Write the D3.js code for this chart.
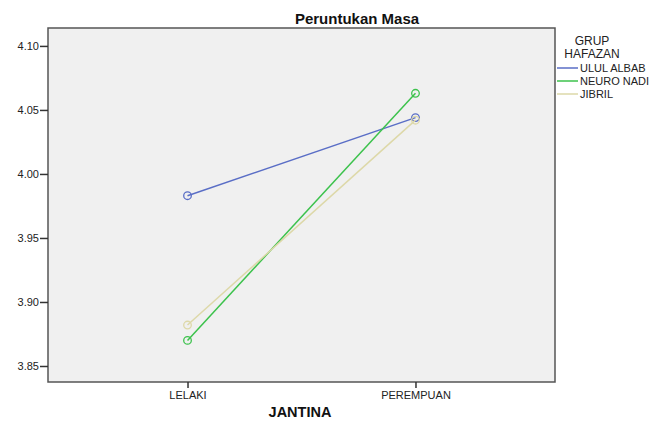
<!DOCTYPE html>
<html>
<head>
<meta charset="utf-8">
<script src="https://cdn.jsdelivr.net/npm/d3@7"></script>
<style>
body{margin:0;background:#fff;overflow:hidden;}
svg{display:block;}
text{font-family:"Liberation Sans",Arial,sans-serif;}
</style>
</head>
<body>
<svg class="chart" width="665" height="421"></svg>
<script>
// data
var categories = ["LELAKI", "PEREMPUAN"];
var seriesNames = ["ULUL ALBAB", "NEURO NADI", "JIBRIL"];
var ululAlbab = [3.983, 4.044];
var neuroNadi = [3.870, 4.063];
var jibril = [3.882, 4.042];
var yTicks = [3.85, 3.90, 3.95, 4.00, 4.05, 4.10];

var seriesColors = ["#5a6ec6", "#3cc24c", "#ddd8a8"];
var allSeries = [ululAlbab, neuroNadi, jibril];

var svg = d3.select(".chart");
var plotL = 48, plotR = 555, plotT = 28, plotB = 382;

var x = d3.scalePoint().domain(categories).range([plotL, plotR]).padding(0.612);
var y = d3.scaleLinear().domain([3.8375, 4.114]).range([plotB, plotT]);

// plot background
svg.append("rect").attr("x", plotL).attr("y", plotT).attr("width", plotR - plotL).attr("height", plotB - plotT)
  .attr("fill", "#f0f0f0").attr("stroke", "#555").attr("stroke-width", 1.5);

// y axis
var yAxis = svg.append("g").attr("transform", "translate(" + plotL + ",0)")
  .call(d3.axisLeft(y).tickValues(yTicks).tickFormat(d3.format(".2f")).tickSize(8).tickSizeOuter(0));
yAxis.select(".domain").remove();
yAxis.selectAll("line").attr("stroke", "#333").attr("stroke-width", 1.5);
yAxis.selectAll("text").attr("font-size", 11).attr("fill", "#222").attr("x", -9);

// x axis
var xAxis = svg.append("g").attr("transform", "translate(0," + plotB + ")")
  .call(d3.axisBottom(x).tickSize(6).tickSizeOuter(0));
xAxis.select(".domain").remove();
xAxis.selectAll("line").attr("stroke", "#333").attr("stroke-width", 1.5);
xAxis.selectAll("text").attr("font-size", 11).attr("fill", "#222").attr("y", 9);

// lines and markers
allSeries.forEach(function(vals, i) {
  var pts = categories.map(function(c, j) { return [c, vals[j]]; });
  svg.append("path").datum(pts)
    .attr("fill", "none").attr("stroke", seriesColors[i]).attr("stroke-width", 1.5)
    .attr("d", d3.line().x(function(d) { return x(d[0]); }).y(function(d) { return y(d[1]); }));
  svg.selectAll(".pt" + i).data(pts).enter().append("circle")
    .attr("cx", function(d) { return x(d[0]); })
    .attr("cy", function(d) { return y(d[1]); })
    .attr("r", 3.8).attr("fill", "none").attr("stroke", seriesColors[i]).attr("stroke-width", 1.3);
});

// title
svg.append("text").attr("x", 357).attr("y", 24).attr("text-anchor", "middle")
  .attr("font-size", 15).attr("font-weight", "bold").attr("fill", "#111").text("Peruntukan Masa");

// x title
svg.append("text").attr("x", 300).attr("y", 417).attr("text-anchor", "middle")
  .attr("font-size", 14.5).attr("font-weight", "bold").attr("fill", "#111").text("JANTINA");

// legend
svg.append("text").attr("x", 592).attr("y", 45).attr("text-anchor", "middle")
  .attr("font-size", 12).attr("fill", "#222").text("GRUP");
svg.append("text").attr("x", 592).attr("y", 58).attr("text-anchor", "middle")
  .attr("font-size", 12).attr("fill", "#222").text("HAFAZAN");
var lg = svg.selectAll(".leg").data(seriesNames).enter().append("g")
  .attr("transform", function(d, i) { return "translate(557," + (68 + i * 13) + ")"; });
lg.append("line").attr("x1", 0).attr("x2", 21).attr("y1", 0).attr("y2", 0)
  .attr("stroke", function(d, i) { return seriesColors[i]; }).attr("stroke-width", 1.5);
lg.append("text").attr("x", 23).attr("y", 4).attr("font-size", 11).attr("fill", "#222").text(function(d) { return d; });
</script>
</body>
</html>
